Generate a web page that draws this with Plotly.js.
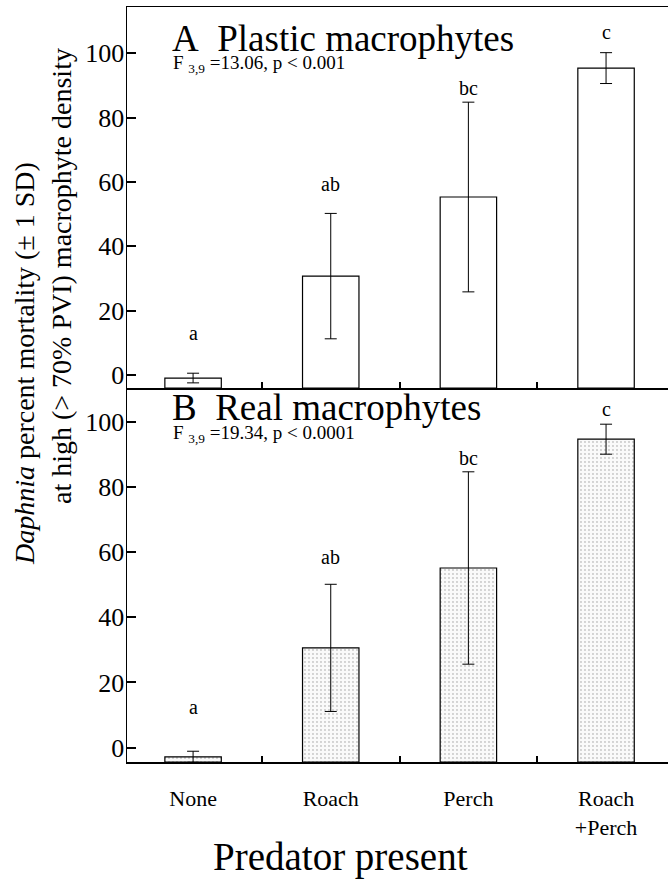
<!DOCTYPE html>
<html>
<head>
<meta charset="utf-8">
<script src="https://cdn.plot.ly/plotly-3.0.1.min.js"></script>
<style>html,body{margin:0;padding:0;background:#fff;}#chart{width:670px;height:890px;}</style>
</head>
<body>
<div id="chart"></div>
<script>
// ---- data ----
var categories = ["None", "Roach", "Perch", "Roach<br>+Perch"];
var plasticMean = [-1, 30.7, 55.3, 95.4];
var plasticSD   = [1.5, 19.5, 29.5, 4.8];
var realMean    = [-2.8, 30.6, 55.1, 94.6];
var realSD      = [1.7, 19.5, 29.5, 4.6];
var groupLetters = ["a", "ab", "bc", "c"];
var yTickVals = [0, 20, 40, 60, 80, 100];

// ---- layout constants ----
var FONT = "Liberation Serif";
var topRange = [-4.1, 114.4];
var botRange = [-4.4, 110.3];
var letterPosTop = [13, 59.3, 89.2, 106.6];
var letterPosBot = [12.4, 58.5, 88.8, 103.9];
var xDomain = [127/670, 668/670];

function barTrace(mean, sd, base, xa, ya, marker) {
  return {
    type: "bar",
    x: categories,
    y: mean.map(function(v){ return v - base; }),
    base: base,
    width: 0.41,
    xaxis: xa, yaxis: ya,
    marker: marker,
    error_y: {type: "data", array: sd, visible: true, color: "#000", thickness: 1, width: 6},
    showlegend: false,
    hoverinfo: "skip"
  };
}

var traces = [
  barTrace(plasticMean, plasticSD, topRange[0], "x", "y",
    {color: "#ffffff", line: {color: "#000", width: 1.2}}),
  barTrace(realMean, realSD, botRange[0], "x2", "y2",
    {color: "#f8f8f8", line: {color: "#000", width: 1.2},
     pattern: {shape: ".", fgcolor: "#9a9a9a", bgcolor: "#fafafa", size: 4, solidity: 0.1, fillmode: "replace"}})
];

function paperY(py){ return 1 - py/890; }
function paperX(px){ return px/670; }
function f(size){ return {family: FONT, size: size, color: "#000"}; }

var annotations = [];
groupLetters.forEach(function(l, i){
  annotations.push({text: l, x: i, y: letterPosTop[i], xref: "x", yref: "y", showarrow: false,
    font: f(20), yanchor: "middle"});
  annotations.push({text: l, x: i, y: letterPosBot[i], xref: "x2", yref: "y2", showarrow: false,
    font: f(20), yanchor: "middle"});
});
annotations.push(
  {text: "A\u2002Plastic macrophytes", xref: "paper", yref: "paper", x: paperX(170), y: paperY(39),
   xanchor: "left", yanchor: "middle", showarrow: false, font: f(37)},
  {text: "F <sub>3,9</sub> =13.06, p &lt; 0.001", xref: "paper", yref: "paper", x: paperX(171), y: paperY(64),
   xanchor: "left", yanchor: "middle", showarrow: false, font: f(19)},
  {text: "B\u2002Real macrophytes", xref: "paper", yref: "paper", x: paperX(170), y: paperY(408),
   xanchor: "left", yanchor: "middle", showarrow: false, font: f(37)},
  {text: "F <sub>3,9</sub> =19.34, p &lt; 0.0001", xref: "paper", yref: "paper", x: paperX(171), y: paperY(434),
   xanchor: "left", yanchor: "middle", showarrow: false, font: f(19)},
  {text: "<i>Daphnia</i> percent mortality (± 1 SD)", xref: "paper", yref: "paper", x: paperX(24), y: paperY(364),
   xanchor: "center", yanchor: "middle", textangle: -90, showarrow: false, font: f(28)},
  {text: "at high (&gt; 70% PVI) macrophyte density", xref: "paper", yref: "paper", x: paperX(61), y: paperY(276),
   xanchor: "center", yanchor: "middle", textangle: -90, showarrow: false, font: f(28)},
  {text: "Predator present", xref: "paper", yref: "paper", x: paperX(340), y: paperY(857),
   xanchor: "center", yanchor: "middle", showarrow: false, font: f(39)}
);

function xAxis(extra) {
  return Object.assign({
    type: "category", domain: xDomain, range: [-0.48, 3.45],
    showline: true, linecolor: "#000", linewidth: 1.5,
    ticks: "inside", tickson: "boundaries", ticklen: 6, tickwidth: 2, tickcolor: "#000",
    showgrid: false, zeroline: false, fixedrange: true
  }, extra);
}
function yAxis(extra) {
  return Object.assign({
    tickmode: "array", tickvals: yTickVals, ticktext: yTickVals.map(String),
    showline: true, linecolor: "#000", linewidth: 1.5,
    ticks: "inside", ticklen: 9, tickwidth: 2, tickcolor: "#000",
    showgrid: false, zeroline: false, fixedrange: true,
    ticklabelstandoff: -4,
    tickfont: f(26)
  }, extra);
}

var layout = {
  width: 670, height: 890,
  margin: {l: 0, r: 0, t: 0, b: 0},
  paper_bgcolor: "#fff", plot_bgcolor: "rgba(0,0,0,0)",
  showlegend: false,
  font: f(20),
  xaxis: xAxis({anchor: "y", mirror: true, showticklabels: false}),
  yaxis: yAxis({anchor: "x", domain: [paperY(388), paperY(7)], range: topRange}),
  xaxis2: xAxis({anchor: "y2", showticklabels: true, ticklabelstandoff: 16, tickfont: f(22)}),
  yaxis2: yAxis({anchor: "x2", domain: [paperY(762), paperY(388)], range: botRange}),
  annotations: annotations
};

Plotly.newPlot("chart", traces, layout, {displayModeBar: false, staticPlot: true});
</script>
</body>
</html>
